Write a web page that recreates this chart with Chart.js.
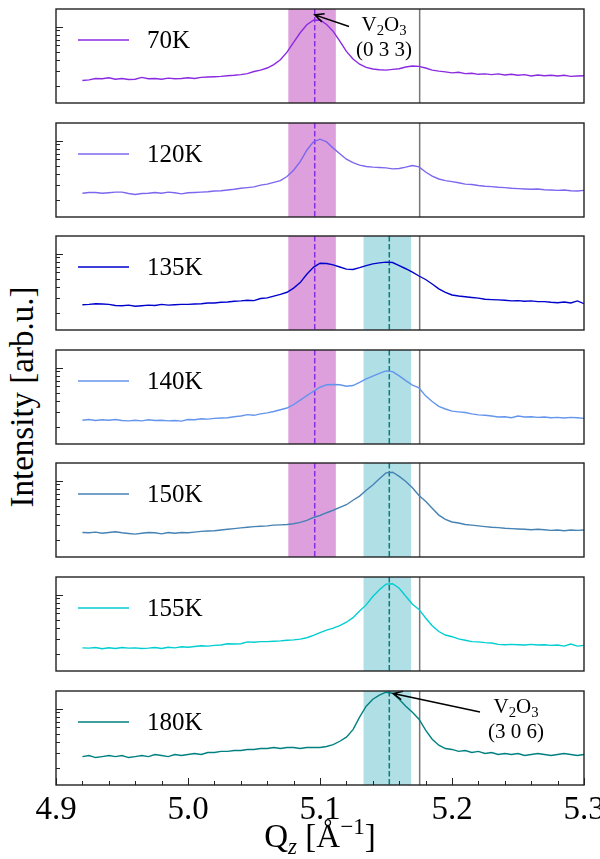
<!DOCTYPE html>
<html>
<head>
<meta charset="utf-8">
<script src="https://cdn.jsdelivr.net/npm/chart.js@4.4.0/dist/chart.umd.min.js"></script>
<style>
  html, body { margin: 0; padding: 0; background: #fff; }
  #figure { position: relative; width: 600px; height: 859px; overflow: hidden; }
  #figure canvas { position: absolute; left: 0; }
  #ylabel {
    position: absolute; left: 22px; top: 397px;
    transform: translate(-50%, -50%) rotate(-90deg);
    font-family: 'Liberation Serif', serif; font-size: 33px;
    white-space: nowrap; color: #000;
  }
</style>
</head>
<body>
<div id="figure">
  <div id="ylabel">Intensity [arb.u.]</div>
</div>
<script>
// Q_z sampling points (1/Angstrom)
const qValues = [
  4.920, 4.925, 4.930, 4.935, 4.940, 4.945, 4.950, 4.955, 4.960, 4.965,
  4.970, 4.975, 4.980, 4.985, 4.990, 4.995, 5.000, 5.005, 5.010, 5.015,
  5.020, 5.025, 5.030, 5.035, 5.040, 5.045, 5.050, 5.055, 5.060, 5.065,
  5.070, 5.075, 5.080, 5.085, 5.090, 5.095, 5.100, 5.105, 5.110, 5.115,
  5.120, 5.125, 5.130, 5.135, 5.140, 5.145, 5.150, 5.155, 5.160, 5.165,
  5.170, 5.175, 5.180, 5.185, 5.190, 5.195, 5.200, 5.205, 5.210, 5.215,
  5.220, 5.225, 5.230, 5.235, 5.240, 5.245, 5.250, 5.255, 5.260, 5.265,
  5.270, 5.275, 5.280, 5.285, 5.290, 5.295, 5.300
];

// intensity scans (arb.u., log axis), one per temperature
const int70K = [
  0.232, 0.236, 0.245, 0.243, 0.250, 0.240, 0.245, 0.238, 0.240, 0.252,
  0.243, 0.245, 0.240, 0.247, 0.243, 0.245, 0.250, 0.245, 0.252, 0.255,
  0.257, 0.259, 0.264, 0.267, 0.272, 0.279, 0.296, 0.307, 0.325, 0.357,
  0.406, 0.500, 0.650, 0.845, 1.048, 1.184, 1.195, 1.058, 0.877, 0.674,
  0.509, 0.414, 0.360, 0.331, 0.316, 0.310, 0.307, 0.313, 0.319, 0.334,
  0.343, 0.340, 0.325, 0.307, 0.299, 0.293, 0.285, 0.290, 0.279, 0.282,
  0.274, 0.277, 0.272, 0.277, 0.269, 0.274, 0.267, 0.272, 0.262, 0.269,
  0.264, 0.267, 0.262, 0.267, 0.259, 0.262, 0.264
];
const int120K = [
  0.240, 0.245, 0.245, 0.240, 0.243, 0.247, 0.247, 0.238, 0.232, 0.238,
  0.240, 0.245, 0.240, 0.247, 0.243, 0.236, 0.243, 0.245, 0.247, 0.250,
  0.255, 0.257, 0.262, 0.267, 0.274, 0.279, 0.285, 0.299, 0.307, 0.322,
  0.337, 0.377, 0.447, 0.565, 0.769, 0.963, 1.038, 0.963, 0.814, 0.700,
  0.603, 0.549, 0.514, 0.495, 0.486, 0.482, 0.477, 0.464, 0.468, 0.486,
  0.509, 0.490, 0.426, 0.381, 0.353, 0.337, 0.328, 0.319, 0.307, 0.304,
  0.296, 0.290, 0.287, 0.282, 0.279, 0.274, 0.272, 0.269, 0.267, 0.269,
  0.264, 0.262, 0.259, 0.262, 0.257, 0.255, 0.259
];
const int135K = [
  0.250, 0.252, 0.257, 0.255, 0.252, 0.245, 0.243, 0.247, 0.240, 0.243,
  0.247, 0.245, 0.252, 0.247, 0.250, 0.252, 0.252, 0.255, 0.257, 0.262,
  0.262, 0.267, 0.269, 0.274, 0.277, 0.282, 0.279, 0.296, 0.301, 0.316,
  0.331, 0.350, 0.392, 0.455, 0.570, 0.687, 0.769, 0.762, 0.734, 0.694,
  0.656, 0.650, 0.681, 0.720, 0.755, 0.776, 0.791, 0.784, 0.720, 0.662,
  0.603, 0.544, 0.495, 0.438, 0.384, 0.350, 0.325, 0.316, 0.310, 0.304,
  0.299, 0.290, 0.287, 0.285, 0.282, 0.277, 0.279, 0.274, 0.277, 0.272,
  0.272, 0.267, 0.264, 0.269, 0.262, 0.277, 0.257
];
const int140K = [
  0.240, 0.245, 0.238, 0.243, 0.240, 0.245, 0.238, 0.236, 0.240, 0.236,
  0.243, 0.238, 0.240, 0.236, 0.238, 0.234, 0.245, 0.243, 0.250, 0.247,
  0.252, 0.255, 0.257, 0.264, 0.269, 0.279, 0.274, 0.285, 0.293, 0.304,
  0.319, 0.334, 0.367, 0.414, 0.468, 0.523, 0.586, 0.626, 0.632, 0.626,
  0.603, 0.614, 0.668, 0.734, 0.791, 0.852, 0.911, 0.894, 0.798, 0.700,
  0.620, 0.575, 0.464, 0.399, 0.350, 0.325, 0.307, 0.301, 0.296, 0.285,
  0.277, 0.274, 0.269, 0.262, 0.264, 0.257, 0.269, 0.262, 0.264, 0.259,
  0.262, 0.257, 0.259, 0.255, 0.259, 0.257, 0.252
];
const int150K = [
  0.245, 0.243, 0.247, 0.240, 0.245, 0.250, 0.243, 0.238, 0.234, 0.240,
  0.245, 0.243, 0.236, 0.245, 0.240, 0.245, 0.243, 0.247, 0.252, 0.255,
  0.257, 0.262, 0.267, 0.272, 0.277, 0.282, 0.287, 0.290, 0.293, 0.299,
  0.301, 0.304, 0.310, 0.322, 0.340, 0.367, 0.388, 0.418, 0.447, 0.482,
  0.519, 0.586, 0.656, 0.769, 0.885, 1.048, 1.229, 1.252, 1.119, 0.972,
  0.821, 0.668, 0.570, 0.472, 0.392, 0.350, 0.325, 0.316, 0.304, 0.299,
  0.293, 0.287, 0.282, 0.279, 0.274, 0.272, 0.269, 0.267, 0.264, 0.267,
  0.264, 0.259, 0.262, 0.257, 0.262, 0.259, 0.262
];
const int155K = [
  0.236, 0.234, 0.238, 0.230, 0.236, 0.232, 0.238, 0.234, 0.236, 0.232,
  0.234, 0.238, 0.232, 0.240, 0.236, 0.243, 0.240, 0.245, 0.250, 0.247,
  0.252, 0.255, 0.264, 0.262, 0.264, 0.277, 0.274, 0.279, 0.279, 0.282,
  0.285, 0.290, 0.293, 0.299, 0.310, 0.331, 0.357, 0.381, 0.403, 0.430,
  0.472, 0.534, 0.638, 0.755, 0.946, 1.140, 1.325, 1.338, 1.184, 0.954,
  0.769, 0.668, 0.529, 0.430, 0.367, 0.334, 0.319, 0.301, 0.290, 0.279,
  0.277, 0.272, 0.269, 0.259, 0.257, 0.259, 0.257, 0.255, 0.259, 0.255,
  0.257, 0.252, 0.255, 0.247, 0.262, 0.247, 0.252
];
const int180K = [
  0.272, 0.280, 0.265, 0.272, 0.280, 0.272, 0.280, 0.265, 0.272, 0.280,
  0.272, 0.288, 0.280, 0.272, 0.288, 0.280, 0.288, 0.296, 0.288, 0.304,
  0.304, 0.313, 0.313, 0.321, 0.321, 0.330, 0.330, 0.338, 0.338, 0.348,
  0.338, 0.348, 0.348, 0.338, 0.348, 0.348, 0.348, 0.357, 0.376, 0.412,
  0.460, 0.565, 0.790, 1.064, 1.287, 1.434, 1.555, 1.514, 1.287, 1.064,
  0.905, 0.748, 0.556, 0.436, 0.370, 0.338, 0.330, 0.313, 0.321, 0.304,
  0.313, 0.296, 0.304, 0.288, 0.296, 0.288, 0.296, 0.280, 0.288, 0.296,
  0.288, 0.280, 0.288, 0.296, 0.288, 0.280, 0.288
];

const temperatures = ['70K', '120K', '135K', '140K', '150K', '155K', '180K'];
const scans = [int70K, int120K, int135K, int140K, int150K, int155K, int180K];
const lineColors = ['#8A2BE2', '#7B68EE', '#0000CD', '#6495ED', '#4682B4', '#00CED1', '#008080'];

// reference positions (Q_z) and which panels show them
const peak033Band = [5.076, 5.112];
const peak033Center = 5.096;
const peak306Band = [5.133, 5.169];
const peak306Center = 5.1525;
const substrateLine = 5.1755;
const panelsWith033 = [0, 1, 2, 3, 4];
const panelsWith306 = [2, 3, 4, 5, 6];

// annotations: arrow tip / tail and text centre in data units
const annotations = {
  0: { tip: [5.096, 1.37], tail: [5.122, 1.0], textQ: 5.1485, label: ['(0 3 3)'] },
  6: { tip: [5.1555, 1.50], tail: [5.2212, 0.91], textQ: 5.2485, label: ['(3 0 6)'] }
};

// axis ticks
const xRange = [4.9, 5.3];
const yRange = [0.126, 1.607];
const xMajorTicks = [4.9, 5.0, 5.1, 5.2, 5.3];
const xTickLabels = ['4.9', '5.0', '5.1', '5.2', '5.3'];
const xMinorTicks = [4.92, 4.94, 4.96, 4.98, 5.02, 5.04, 5.06, 5.08, 5.12, 5.14, 5.16, 5.18, 5.22, 5.24, 5.26, 5.28];
const yMajorTicks = [1];
const yMinorTicks = [0.2, 0.3, 0.4, 0.5, 0.6, 0.7, 0.8, 0.9];

// layout
const panelTops = [9, 123, 236, 350, 463, 577, 691];
const panelHeight = 94;
const plotLeft = 56, plotRight = 584;
const serif = '"Liberation Serif", serif';

// draws a row of text pieces (normal / subscript / superscript) centred on cx
function drawRich(ctx, parts, cx, baseY, size) {
    let total = 0;
    const items = parts.map(([t, kind]) => {
        const s = kind ? size * 0.7 : size;
        const font = (kind === 'isub' ? 'italic ' : '') + s + 'px ' + serif;
        ctx.font = font;
        const w = ctx.measureText(t).width;
        total += w;
        let dy = 0;
        if (kind === 'sub' || kind === 'isub') dy = size * 0.2;
        if (kind === 'sup') dy = -size * 0.4;
        return { t, font, w, dy };
    });
    let x0 = cx - total / 2;
    ctx.textAlign = 'left';
    ctx.textBaseline = 'alphabetic';
    items.forEach(it => {
        ctx.font = it.font;
        ctx.fillText(it.t, x0, baseY + it.dy);
        x0 += it.w;
    });
}

function vline(ctx, x, a, color, width, dash) {
    ctx.beginPath();
    ctx.setLineDash(dash || []);
    ctx.strokeStyle = color;
    ctx.lineWidth = width;
    ctx.moveTo(x, a.top);
    ctx.lineTo(x, a.bottom);
    ctx.stroke();
    ctx.setLineDash([]);
}

const decorPlugin = {
    id: 'decor',
    beforeDatasetsDraw(chart, args, opts) {
        const { ctx, chartArea: a, scales: { x } } = chart;
        ctx.save();
        if (opts.show033) {
            ctx.fillStyle = '#DDA0DD';
            const l = x.getPixelForValue(peak033Band[0]), r = x.getPixelForValue(peak033Band[1]);
            ctx.fillRect(l, a.top, r - l, a.bottom - a.top);
        }
        if (opts.show306) {
            ctx.fillStyle = '#B0E0E6';
            const l = x.getPixelForValue(peak306Band[0]), r = x.getPixelForValue(peak306Band[1]);
            ctx.fillRect(l, a.top, r - l, a.bottom - a.top);
        }
        vline(ctx, x.getPixelForValue(substrateLine), a, '#777', 1.5);
        if (opts.show033) vline(ctx, x.getPixelForValue(peak033Center), a, '#8A2BE2', 1.5, [5.5, 2.5]);
        if (opts.show306) vline(ctx, x.getPixelForValue(peak306Center), a, '#008080', 1.5, [5.5, 2.5]);
        ctx.restore();
    },
    afterDatasetsDraw(chart, args, opts) {
        const { ctx, chartArea: a, scales: { x, y } } = chart;
        const ds = chart.data.datasets[0];
        ctx.save();

        // legend entry
        const ly = a.top + 31;
        ctx.beginPath();
        ctx.strokeStyle = ds.borderColor;
        ctx.lineWidth = ds.borderWidth;
        ctx.moveTo(a.left + 22, ly);
        ctx.lineTo(a.left + 73, ly);
        ctx.stroke();
        ctx.fillStyle = '#000';
        ctx.font = '25px ' + serif;
        ctx.textAlign = 'left';
        ctx.textBaseline = 'middle';
        ctx.fillText(ds.label, a.left + 91, ly + 1);

        // peak annotation with arrow
        const ann = opts.annotation;
        if (ann) {
            const tx = x.getPixelForValue(ann.tip[0]), ty = y.getPixelForValue(ann.tip[1]);
            const sx = x.getPixelForValue(ann.tail[0]), sy = y.getPixelForValue(ann.tail[1]);
            ctx.strokeStyle = '#000';
            ctx.lineWidth = 1.5;
            ctx.beginPath();
            ctx.moveTo(sx, sy);
            ctx.lineTo(tx, ty);
            const ang = Math.atan2(sy - ty, sx - tx);
            ctx.moveTo(tx + 10 * Math.cos(ang + 0.45), ty + 10 * Math.sin(ang + 0.45));
            ctx.lineTo(tx, ty);
            ctx.lineTo(tx + 10 * Math.cos(ang - 0.45), ty + 10 * Math.sin(ang - 0.45));
            ctx.stroke();
            const cx = x.getPixelForValue(ann.textQ);
            ctx.fillStyle = '#000';
            drawRich(ctx, [['V', ''], ['2', 'sub'], ['O', ''], ['3', 'sub']], cx, y.getPixelForValue(1.056) + 6, 21);
            drawRich(ctx, [[ann.label[0], '']], cx, y.getPixelForValue(0.543) + 7, 21);
        }

        // frame
        ctx.strokeStyle = '#222';
        ctx.lineWidth = 1.4;
        ctx.strokeRect(a.left, a.top, a.right - a.left, a.bottom - a.top);

        // inward y ticks (log axis)
        ctx.lineWidth = 1;
        ctx.beginPath();
        yMajorTicks.forEach(v => {
            const py = Math.round(y.getPixelForValue(v)) + 0.5;
            ctx.moveTo(a.left, py); ctx.lineTo(a.left + 7, py);
        });
        yMinorTicks.forEach(v => {
            const py = Math.round(y.getPixelForValue(v)) + 0.5;
            ctx.moveTo(a.left, py); ctx.lineTo(a.left + 4, py);
        });
        ctx.stroke();

        // shared x axis on the bottom panel
        if (opts.xAxis) {
            ctx.beginPath();
            xMajorTicks.forEach(v => {
                const px = Math.round(x.getPixelForValue(v)) + 0.5;
                ctx.moveTo(px, a.bottom); ctx.lineTo(px, a.bottom - 7);
            });
            xMinorTicks.forEach(v => {
                const px = Math.round(x.getPixelForValue(v)) + 0.5;
                ctx.moveTo(px, a.bottom); ctx.lineTo(px, a.bottom - 4);
            });
            ctx.stroke();
            ctx.fillStyle = '#000';
            ctx.font = '33px ' + serif;
            ctx.textAlign = 'center';
            ctx.textBaseline = 'top';
            xMajorTicks.forEach((v, i) => {
                ctx.fillText(xTickLabels[i], x.getPixelForValue(v), a.bottom + 9);
            });
            drawRich(ctx, [['Q', ''], ['z', 'isub'], [' [\u00C5', ''], ['\u22121', 'sup'], [']', '']],
                (a.left + a.right) / 2, a.bottom + 62, 33);
        }
        ctx.restore();
    }
};
Chart.register(decorPlugin);

const fig = document.getElementById('figure');
scans.forEach((scan, i) => {
    const isLast = i === scans.length - 1;
    const padTop = 4;
    const padBottom = isLast ? 74 : 4;
    const canvas = document.createElement('canvas');
    canvas.width = 600;
    canvas.height = panelHeight + padTop + padBottom;
    canvas.style.top = (panelTops[i] - padTop) + 'px';
    fig.appendChild(canvas);

    new Chart(canvas, {
        type: 'line',
        data: {
            datasets: [{
                label: temperatures[i],
                data: qValues.map((q, k) => ({ x: q, y: scan[k] })),
                borderColor: lineColors[i],
                borderWidth: 1.4,
                pointRadius: 0,
                fill: false,
                tension: 0
            }]
        },
        options: {
            responsive: false,
            animation: false,
            events: [],
            layout: { padding: { left: plotLeft, right: 600 - plotRight, top: padTop, bottom: padBottom } },
            scales: {
                x: { type: 'linear', min: xRange[0], max: xRange[1], display: false },
                y: { type: 'logarithmic', min: yRange[0], max: yRange[1], display: false }
            },
            plugins: {
                legend: { display: false },
                tooltip: { enabled: false },
                decor: {
                    show033: panelsWith033.includes(i),
                    show306: panelsWith306.includes(i),
                    annotation: annotations[i] || null,
                    xAxis: isLast
                }
            }
        }
    });
});
</script>
</body>
</html>
